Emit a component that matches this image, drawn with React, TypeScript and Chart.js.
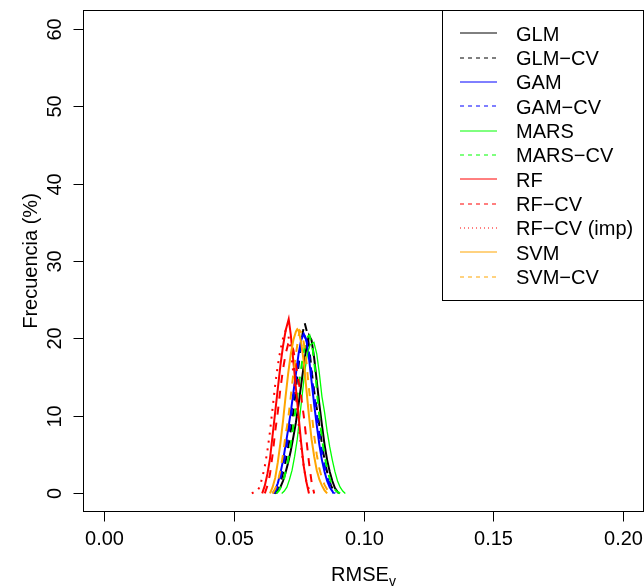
import React, { useEffect, useRef } from "react";
import { Chart, registerables } from "chart.js";

Chart.register(...registerables);

// ---- data: [RMSE_v, Frecuencia (%)] ----
const GLM: [number, number][] = [[0.066,0],[0.067,0.3],[0.068,0.8],[0.069,1.6],[0.070,2.7],[0.071,4],[0.072,5.5],[0.073,7.3],[0.074,9.2],[0.075,11.5],[0.076,14],[0.077,16.5],[0.078,18.8],[0.079,20.4],[0.080,19.8],[0.081,17.5],[0.082,14.5],[0.083,11.5],[0.084,8.8],[0.085,6.3],[0.086,4.3],[0.087,2.8],[0.088,1.6],[0.089,0.7],[0.090,0.2],[0.0905,0]];
const GLM_CV: [number, number][] = [[0.0655,0],[0.0665,0.4],[0.0675,1],[0.0685,2],[0.0695,3.3],[0.0705,5],[0.0715,7],[0.0725,9.2],[0.0735,12],[0.0745,15],[0.0755,18],[0.0765,20.5],[0.0773,22.1],[0.0785,20.5],[0.0795,17.5],[0.0805,14.5],[0.0815,12],[0.0825,10],[0.0835,7.5],[0.0845,5.3],[0.0855,3.5],[0.0865,2],[0.0875,1],[0.089,0]];
const GAM: [number, number][] = [[0.065,0],[0.066,0.5],[0.067,1.3],[0.068,2.6],[0.069,4.2],[0.070,6.2],[0.071,8.3],[0.072,10.5],[0.073,13],[0.074,15.5],[0.075,18],[0.076,19.8],[0.077,20.6],[0.078,19.8],[0.079,17.5],[0.080,14.5],[0.081,11.5],[0.082,8.8],[0.083,6.3],[0.084,4.3],[0.085,2.8],[0.086,1.6],[0.087,0.8],[0.088,0.3],[0.0885,0]];
const GAM_CV: [number, number][] = [[0.0655,0],[0.0665,0.5],[0.0675,1.3],[0.0685,2.6],[0.0695,4.2],[0.0705,6.2],[0.0715,8.4],[0.0725,11],[0.0735,13.5],[0.0745,16],[0.0755,18.3],[0.0765,19.8],[0.0775,20.2],[0.0785,19.3],[0.0795,17],[0.0805,14],[0.0815,11.5],[0.0825,9],[0.0835,6.5],[0.0845,4.5],[0.0855,2.8],[0.0865,1.6],[0.0875,0.8],[0.089,0]];
const MARS: [number, number][] = [[0.0685,0],[0.0695,0.3],[0.0705,0.8],[0.0715,1.8],[0.0725,3],[0.0735,4.8],[0.0745,7],[0.0755,10],[0.0765,13],[0.0775,16],[0.0785,18.2],[0.0795,19.2],[0.0809,19.5],[0.082,18],[0.083,15.5],[0.084,12.5],[0.085,10.5],[0.086,8],[0.087,6],[0.088,4.3],[0.089,2.8],[0.090,1.6],[0.091,0.8],[0.092,0.3],[0.093,0]];
const MARS_CV: [number, number][] = [[0.0665,0],[0.0675,0.4],[0.0685,1],[0.0695,2],[0.0705,3.5],[0.0715,5.3],[0.0725,7.5],[0.0735,10],[0.0745,12.5],[0.0755,15],[0.0765,17.3],[0.0775,19.2],[0.0785,20.2],[0.0792,20.4],[0.0805,18.5],[0.0815,15.5],[0.0825,11.5],[0.0835,8.5],[0.0845,6],[0.0855,4],[0.0865,2.5],[0.0875,1.4],[0.0885,0.7],[0.0895,0.3],[0.091,0]];
const RF: [number, number][] = [[0.061,0],[0.062,1],[0.063,2.5],[0.064,4.5],[0.065,7.5],[0.066,10.5],[0.067,13.5],[0.068,16.5],[0.069,19],[0.070,21],[0.0712,22.5],[0.072,20.5],[0.073,17],[0.074,13.5],[0.075,10],[0.076,6.5],[0.077,3.5],[0.078,1.5],[0.079,0]];
const RF_CV: [number, number][] = [[0.062,0],[0.063,1],[0.064,2.5],[0.065,5],[0.066,8],[0.067,10.5],[0.068,13.5],[0.069,16],[0.070,18],[0.071,19.3],[0.072,19.5],[0.073,18.5],[0.074,16.5],[0.075,14.5],[0.076,12.5],[0.077,10],[0.078,7],[0.079,4],[0.080,1.5],[0.081,0]];
const RF_CV_IMP: [number, number][] = [[0.057,0],[0.058,0.2],[0.059,0.3],[0.060,0.8],[0.061,2],[0.062,3.5],[0.063,5.5],[0.064,8],[0.065,11],[0.066,14],[0.067,16.5],[0.068,18.5],[0.069,20],[0.070,21],[0.071,20.5],[0.072,18.5],[0.073,15.5],[0.074,12.5],[0.075,9],[0.076,6],[0.077,3.5],[0.078,1.5],[0.079,0.5],[0.080,0]];
const SVM: [number, number][] = [[0.064,0],[0.065,0.8],[0.066,2],[0.067,4],[0.068,6.5],[0.069,9.3],[0.070,12.5],[0.071,15.5],[0.072,18],[0.073,19.8],[0.074,20.9],[0.0745,21.2],[0.075,21],[0.076,19.5],[0.077,17],[0.078,13.5],[0.079,10],[0.080,7],[0.081,4.8],[0.082,3],[0.083,1.8],[0.084,1],[0.085,0.4],[0.086,0]];
const SVM_CV: [number, number][] = [[0.065,0],[0.066,0.6],[0.067,1.5],[0.068,3],[0.069,5],[0.070,7.5],[0.071,9.6],[0.072,12.5],[0.073,15.5],[0.074,18],[0.075,20.3],[0.0755,21],[0.076,20.8],[0.077,19.5],[0.078,17],[0.079,13.5],[0.080,10.5],[0.081,7.5],[0.082,5],[0.083,3.2],[0.084,2],[0.085,1.1],[0.086,0.5],[0.087,0]];

const SERIES_NAMES = ["GLM", "GLM\u2212CV", "GAM", "GAM\u2212CV", "MARS", "MARS\u2212CV", "RF", "RF\u2212CV", "RF\u2212CV (imp)", "SVM", "SVM\u2212CV"];
const SERIES_DATA = [GLM, GLM_CV, GAM, GAM_CV, MARS, MARS_CV, RF, RF_CV, RF_CV_IMP, SVM, SVM_CV];
const SERIES_COLORS = ["#000000", "#000000", "#0000FF", "#0000FF", "#00FF00", "#00FF00", "#FF0000", "#FF0000", "#FF0000", "#FFA500", "#FFA500"];
const SERIES_LTY = ["solid", "dashed", "solid", "dashed", "solid", "dashed", "solid", "dashed", "dotted", "solid", "dashed"];

const X_TICKS = [0, 0.05, 0.1, 0.15, 0.2];
const X_TICK_LABELS = ["0.00", "0.05", "0.10", "0.15", "0.20"];
const Y_TICKS = [0, 10, 20, 30, 40, 50, 60];
const Y_TICK_LABELS = ["0", "10", "20", "30", "40", "50", "60"];
const X_TITLE = "RMSE";
const X_TITLE_SUB = "v";
const Y_TITLE = "Frecuencia (%)";

const FONT = '"Liberation Sans", Arial, Helvetica, sans-serif';

function dashFor(lty: string, lw: number): number[] {
  if (lty === "dashed") return [4 * lw, 4 * lw];
  if (lty === "dotted") return [1 * lw, 3 * lw];
  return [];
}

const rAxesPlugin = {
  id: "rAxes",
  afterDraw(chart: any) {
    const ctx = chart.ctx as CanvasRenderingContext2D;
    const ca = chart.chartArea;
    const xs = chart.scales.x;
    const ys = chart.scales.y;
    ctx.save();
    ctx.strokeStyle = "#000";
    ctx.fillStyle = "#000";
    ctx.lineWidth = 1;
    ctx.setLineDash([]);
    // frame
    ctx.strokeRect(Math.round(ca.left) + 0.5, Math.round(ca.top) + 0.5, Math.round(ca.right - ca.left) - 1, Math.round(ca.bottom - ca.top) - 1);
    const bottom = Math.round(ca.bottom) - 0.5;
    const left = Math.round(ca.left) + 0.5;
    // x axis ticks
    ctx.font = "20px " + FONT;
    ctx.textAlign = "center";
    ctx.textBaseline = "alphabetic";
    X_TICKS.forEach((v, i) => {
      const px = Math.round(xs.getPixelForValue(v)) + 0.5;
      ctx.beginPath();
      ctx.moveTo(px, bottom);
      ctx.lineTo(px, bottom + 10);
      ctx.stroke();
      ctx.fillText(X_TICK_LABELS[i], px, 545);
    });
    // y axis ticks
    Y_TICKS.forEach((v, i) => {
      const py = Math.round(ys.getPixelForValue(v)) + 0.5;
      ctx.beginPath();
      ctx.moveTo(left, py);
      ctx.lineTo(left - 10, py);
      ctx.stroke();
      ctx.save();
      ctx.translate(61, py);
      ctx.rotate(-Math.PI / 2);
      ctx.fillText(Y_TICK_LABELS[i], 0, 0);
      ctx.restore();
    });
    // y title
    ctx.save();
    ctx.translate(37, (ca.top + ca.bottom) / 2);
    ctx.rotate(-Math.PI / 2);
    ctx.fillText(Y_TITLE, 0, 0);
    ctx.restore();
    // x title with subscript
    const cx = (ca.left + ca.right) / 2;
    ctx.font = "20px " + FONT;
    const w1 = ctx.measureText(X_TITLE).width;
    ctx.font = "14px " + FONT;
    const w2 = ctx.measureText(X_TITLE_SUB).width;
    const start = cx - (w1 + w2) / 2;
    ctx.textAlign = "left";
    ctx.font = "20px " + FONT;
    ctx.fillText(X_TITLE, start, 581);
    ctx.font = "14px " + FONT;
    ctx.fillText(X_TITLE_SUB, start + w1, 586);

    // legend
    const lx0 = 442.5, ly0 = Math.round(ca.top) + 0.5, lx1 = Math.round(ca.right) - 0.5, ly1 = 300.5;
    ctx.fillStyle = "#fff";
    ctx.fillRect(lx0, ly0, lx1 - lx0, ly1 - ly0);
    ctx.strokeStyle = "#000";
    ctx.setLineDash([]);
    ctx.strokeRect(lx0, ly0, lx1 - lx0, ly1 - ly0);
    ctx.font = "20px " + FONT;
    ctx.textAlign = "left";
    ctx.fillStyle = "#000";
    SERIES_NAMES.forEach((name, i) => {
      const yc = 33.3 + i * 24.34;
      ctx.strokeStyle = SERIES_COLORS[i];
      ctx.lineWidth = 1;
      ctx.setLineDash(dashFor(SERIES_LTY[i], 1));
      ctx.beginPath();
      ctx.moveTo(460, Math.round(yc));
      ctx.lineTo(497, Math.round(yc));
      ctx.stroke();
      ctx.setLineDash([]);
      ctx.fillStyle = "#000";
      ctx.fillText(name, 516, yc + 7.2);
    });
    ctx.restore();
  },
};

export default function App() {
  const ref = useRef<HTMLCanvasElement | null>(null);
  useEffect(() => {
    document.body.style.margin = "0";
    const canvas = ref.current;
    if (!canvas) return;
    const datasets = SERIES_DATA.map((d, i) => {
      const lw = SERIES_NAMES[i] === "MARS" ? 1.3 : 2;
      return {
        label: SERIES_NAMES[i],
        data: d.map(([x, y]) => ({ x, y })),
        borderColor: SERIES_COLORS[i],
        backgroundColor: SERIES_COLORS[i],
        borderWidth: lw,
        borderDash: dashFor(SERIES_LTY[i], lw),
        pointRadius: 0,
        showLine: true,
        fill: false,
        tension: 0,
        order: SERIES_NAMES.length - i,
      };
    });
    const chart = new Chart(canvas, {
      type: "scatter",
      data: { datasets },
      options: {
        animation: false,
        responsive: false,
        devicePixelRatio: 1,
        layout: { padding: { left: 83, top: 10, right: 0, bottom: 76 } },
        plugins: { legend: { display: false }, tooltip: { enabled: false } },
        scales: {
          x: { type: "linear", min: -0.008, max: 0.208, display: false },
          y: { type: "linear", min: -2.4, max: 62.4, display: false },
        },
      },
      plugins: [rAxesPlugin],
    } as any);
    return () => chart.destroy();
  }, []);
  return (
    <div style={{ position: "absolute", left: 0, top: 0, width: 644, height: 588, background: "#fff" }}>
      <canvas ref={ref} width={644} height={588} style={{ display: "block" }} />
    </div>
  );
}
